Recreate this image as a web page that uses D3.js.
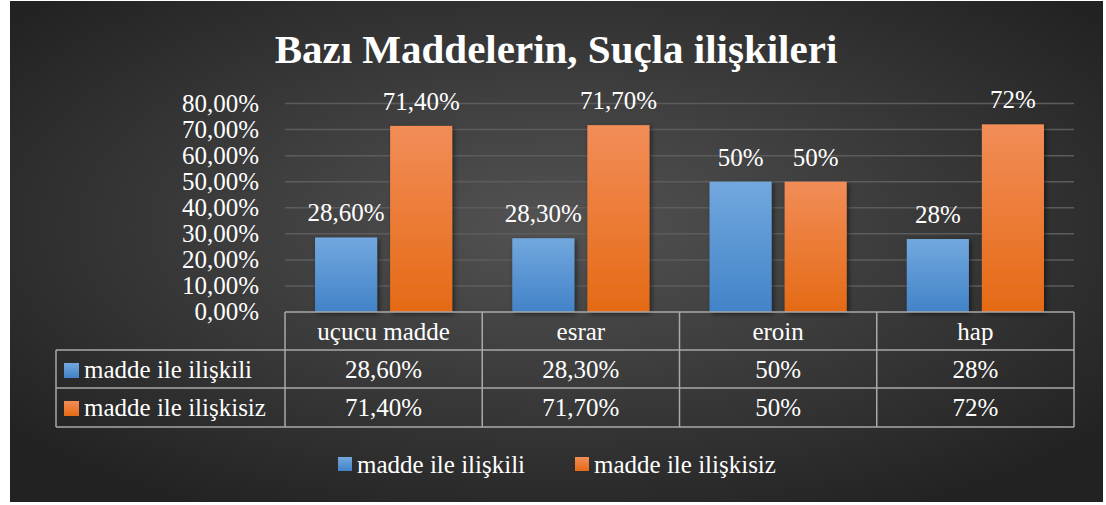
<!DOCTYPE html>
<html>
<head>
<meta charset="utf-8">
<script src="https://cdn.jsdelivr.net/npm/d3@7"></script>
</head>
<body style="margin:0">
<script>
// data
var categories = ["uçucu madde", "esrar", "eroin", "hap"];
var seriesNames = ["madde ile ilişkili", "madde ile ilişkisiz"];
var relatedValues = [0.286, 0.283, 0.50, 0.28];
var unrelatedValues = [0.714, 0.717, 0.50, 0.72];
var relatedLabels = ["28,60%", "28,30%", "50%", "28%"];
var unrelatedLabels = ["71,40%", "71,70%", "50%", "72%"];
var yTicks = [0, 0.1, 0.2, 0.3, 0.4, 0.5, 0.6, 0.7, 0.8];

var width = 1106, height = 505;
var seriesColors = [["#72a8de", "#4283c8"], ["#f28d58", "#e56a15"]];

var svg = d3.select("body").append("svg")
    .attr("width", width)
    .attr("height", height)
    .attr("font-family", "Liberation Serif");

var defs = svg.append("defs");

// background gradient
var bg = defs.append("radialGradient").attr("id", "bg")
    .attr("cx", "50%").attr("cy", "45%").attr("r", "65%");
bg.append("stop").attr("offset", "0%").attr("stop-color", "#535353");
bg.append("stop").attr("offset", "100%").attr("stop-color", "#222");

seriesColors.forEach(function(c, i) {
  var g = defs.append("linearGradient").attr("id", "bar" + i)
      .attr("x1", 0).attr("y1", 0).attr("x2", 0).attr("y2", 1);
  g.append("stop").attr("offset", "0%").attr("stop-color", c[0]);
  g.append("stop").attr("offset", "100%").attr("stop-color", c[1]);
});

var shadow = defs.append("filter").attr("id", "shadow")
    .attr("x", "-20%").attr("y", "-20%").attr("width", "150%").attr("height", "150%");
shadow.append("feDropShadow").attr("dx", 2).attr("dy", 2)
    .attr("stdDeviation", 2.5).attr("flood-color", "#000").attr("flood-opacity", 0.5);

svg.append("rect")
    .attr("x", 10).attr("y", 1)
    .attr("width", 1093).attr("height", 501)
    .attr("fill", "url(#bg)");

// title
svg.append("text")
    .attr("x", 556).attr("y", 63)
    .attr("text-anchor", "middle")
    .attr("font-size", 41)
    .attr("font-weight", "bold")
    .attr("fill", "#fff")
    .text("Bazı Maddelerin, Suçla ilişkileri");

var x = d3.scaleBand()
    .domain(categories)
    .range([285, 1074]);

var xInner = d3.scaleBand()
    .domain([0, 1])
    .range([0, x.bandwidth()])
    .paddingInner(0.173)
    .paddingOuter(0.4);

var y = d3.scaleLinear()
    .domain([0, 0.8])
    .range([312, 103.5]);

var pct = d3.formatLocale({decimal: ",", thousands: ".", grouping: [3], currency: ["", ""]}).format(".2%");

// gridlines
svg.append("g")
    .selectAll("line")
    .data(yTicks.slice(1))
    .enter()
    .append("line")
    .attr("x1", 285).attr("x2", 1074)
    .attr("y1", function(d) { return y(d); })
    .attr("y2", function(d) { return y(d); })
    .attr("stroke", "#5c5c5c")
    .attr("stroke-width", 1.5);

// y axis labels
var yAxis = svg.append("g")
    .attr("transform", "translate(259,0)")
    .call(d3.axisLeft(y).tickValues(yTicks).tickFormat(pct).tickSize(0).tickPadding(0));
yAxis.select(".domain").remove();
yAxis.attr("font-family", "Tinos").attr("font-size", 25);
yAxis.selectAll("text")
    .attr("fill", "#fff")
    .attr("dy", "0.3em");

// bars
var series = [relatedValues, unrelatedValues];
var seriesLabels = [relatedLabels, unrelatedLabels];

series.forEach(function(vals, si) {
  var g = svg.append("g").attr("font-size", 25).attr("fill", "#fff");
  g.selectAll("rect")
      .data(vals)
      .enter()
      .append("rect")
      .attr("x", function(d, i) { return x(categories[i]) + xInner(si); })
      .attr("y", function(d) { return y(d); })
      .attr("width", xInner.bandwidth())
      .attr("height", function(d) { return y(0) - y(d); })
      .attr("fill", "url(#bar" + si + ")")
      .attr("filter", "url(#shadow)");

  g.selectAll("text")
      .data(vals)
      .enter()
      .append("text")
      .attr("x", function(d, i) { return x(categories[i]) + xInner(si) + xInner.bandwidth() / 2; })
      .attr("y", function(d) { return y(d) - 16; })
      .attr("text-anchor", "middle")
      .text(function(d, i) { return seriesLabels[si][i]; });
});

// data table
var rowTops = [312, 350, 388, 427];
var tableLeft = 56, tableRight = 1074;
var table = svg.append("g")
    .attr("fill", "none")
    .attr("stroke", "#a9a9a9")
    .attr("stroke-width", 1.5);

// horizontal lines
table.append("line").attr("x1", 285).attr("x2", tableRight).attr("y1", rowTops[0]).attr("y2", rowTops[0]);
rowTops.slice(1).forEach(function(t) {
  table.append("line").attr("x1", tableLeft).attr("x2", tableRight).attr("y1", t).attr("y2", t);
});
// vertical lines
table.append("line").attr("x1", tableLeft).attr("x2", tableLeft).attr("y1", rowTops[1]).attr("y2", rowTops[3]);
categories.forEach(function(c) {
  table.append("line").attr("x1", x(c)).attr("x2", x(c)).attr("y1", rowTops[0]).attr("y2", rowTops[3]);
});
table.append("line").attr("x1", tableRight).attr("x2", tableRight).attr("y1", rowTops[0]).attr("y2", rowTops[3]);

var tableText = svg.append("g")
    .attr("font-family", "Times New Roman")
    .attr("font-size", 25)
    .attr("fill", "#fff");

// header row
tableText.append("g").selectAll("text")
    .data(categories)
    .enter()
    .append("text")
    .attr("x", function(d) { return x(d) + x.bandwidth() / 2; })
    .attr("y", 340)
    .attr("text-anchor", "middle")
    .text(function(d) { return d; });

// series rows
seriesLabels.forEach(function(labels, si) {
  var baseline = rowTops[si + 1] + 28;
  svg.append("rect")
      .attr("x", 64).attr("y", rowTops[si + 1] + 13)
      .attr("width", 15).attr("height", 15)
      .attr("fill", "url(#bar" + si + ")");
  tableText.append("text")
      .attr("x", 84).attr("y", baseline)
      .text(seriesNames[si]);
  tableText.append("g").selectAll("text")
      .data(labels)
      .enter()
      .append("text")
      .attr("x", function(d, i) { return x(categories[i]) + x.bandwidth() / 2; })
      .attr("y", baseline)
      .attr("text-anchor", "middle")
      .text(function(d) { return d; });
});

// legend
var legendX = [338, 575];
var legend = svg.append("g").attr("font-size", 25).attr("fill", "#fff");
seriesNames.forEach(function(name, si) {
  legend.append("rect")
      .attr("x", legendX[si]).attr("y", 457)
      .attr("width", 14).attr("height", 14)
      .attr("fill", "url(#bar" + si + ")");
  legend.append("text")
      .attr("x", legendX[si] + 19).attr("y", 473)
      .text(name);
});
</script>
</body>
</html>
